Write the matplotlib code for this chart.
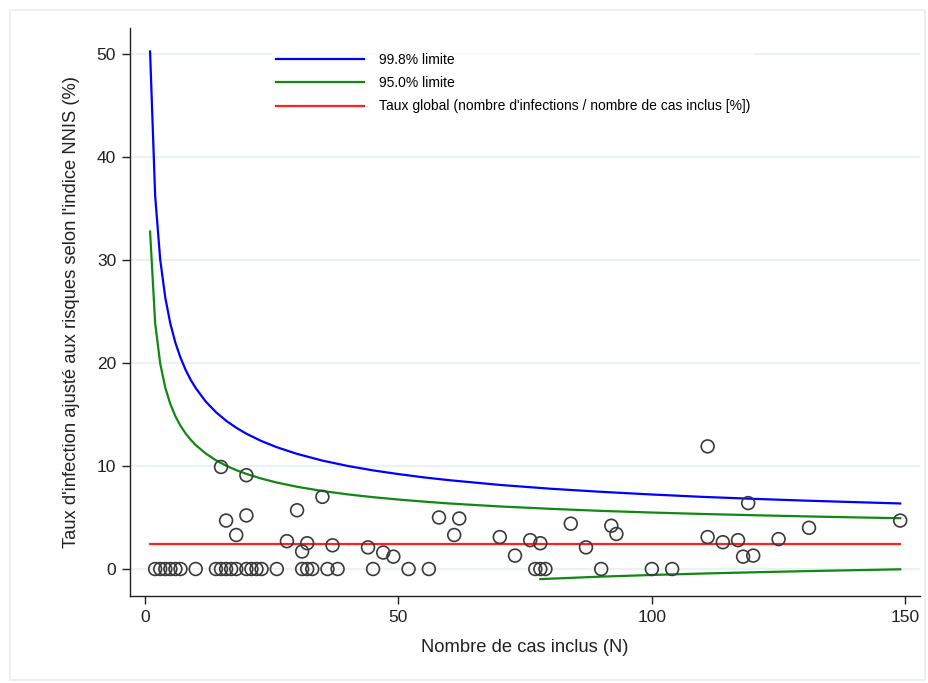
import matplotlib
matplotlib.use("Agg")
import matplotlib.pyplot as plt
from matplotlib.patches import Rectangle

plt.rcParams['font.family'] = ['Liberation Sans', 'DejaVu Sans']

# Scatter data: number of cases (N) and adjusted infection rate (%)
cases_n = [2, 3, 4, 5, 6, 7, 10, 14, 15, 16, 17, 18, 20, 21, 22, 23, 26, 31, 32, 33, 36, 38, 45, 52, 56,
           77, 78, 79, 90, 100, 104,
           15, 20, 35, 30, 16, 20, 18, 28, 32, 31, 37, 44, 47, 49, 58, 62, 61, 70, 73,
           76, 78, 84, 87, 92, 93, 111, 111, 114, 117, 119, 118, 120, 125, 131, 149]
rates = [0, 0, 0, 0, 0, 0, 0, 0, 0, 0, 0, 0, 0, 0, 0, 0, 0, 0, 0, 0, 0, 0, 0, 0, 0,
         0, 0, 0, 0, 0, 0,
         9.9, 9.1, 7.0, 5.7, 4.7, 5.2, 3.3, 2.7, 2.5, 1.7, 2.3, 2.1, 1.6, 1.2, 5.0, 4.9, 3.3, 3.1, 1.3,
         2.8, 2.5, 4.4, 2.1, 4.2, 3.4, 11.9, 3.1, 2.6, 2.8, 6.4, 1.2, 1.3, 2.9, 4.0, 4.7]

# Control limits
limit_n = [1, 2, 3, 4, 5, 6, 7, 8, 9, 10, 12, 14, 16, 18, 20, 23, 26, 30, 35, 40, 45, 50, 55,
           60, 70, 80, 90, 100, 110, 120, 130, 140, 149]
upper_998 = [50.22, 36.23, 30.03, 26.34, 23.81, 21.95, 20.51, 19.34, 18.37, 17.56, 16.24, 15.22,
             14.39, 13.71, 13.13, 12.41, 11.82, 11.17, 10.52, 10.00, 9.57, 9.21, 8.89, 8.62,
             8.16, 7.79, 7.49, 7.23, 7.00, 6.81, 6.64, 6.49, 6.36]
upper_950 = [32.75, 23.88, 19.94, 17.60, 16.00, 14.82, 13.90, 13.16, 12.55, 12.03, 11.20, 10.55,
             10.03, 9.59, 9.23, 8.77, 8.39, 7.98, 7.57, 7.24, 6.97, 6.74, 6.54, 6.36,
             6.07, 5.84, 5.64, 5.48, 5.34, 5.22, 5.11, 5.01, 4.93]
lower_n = [78, 90, 100, 110, 120, 130, 149]
lower_950 = [-0.98, -0.74, -0.58, -0.44, -0.32, -0.21, -0.03]
global_n = [1, 149]
global_rate = [2.45, 2.45]

fig = plt.figure(figsize=(9.29, 6.83), dpi=100)
fig.patches.append(Rectangle((10/929, 1-680/683), 915/929, 670/683, transform=fig.transFigure,
                             fill=False, edgecolor='#e6eef0', linewidth=1.2))
ax = fig.add_axes([130/929, 1-596/683, 790/929, 568/683])

for y in [0, 10, 20, 30, 40, 50]:
    ax.axhline(y, color='#eaf2f3', linewidth=1.5, zorder=0)

ax.plot(limit_n, upper_998, color='#0000ff', lw=1.6, label='99.8% limite', zorder=3)
ax.plot(limit_n, upper_950, color='#118811', lw=1.6, label='95.0% limite', zorder=3)
ax.plot(lower_n, lower_950, color='#118811', lw=1.6, zorder=3)
ax.plot(global_n, global_rate, color='#ff2020', lw=1.6,
        label="Taux global (nombre d'infections / nombre de cas inclus [%])", zorder=3)
ax.scatter(cases_n, rates, s=85, facecolors='none', edgecolors='#3a3a3a', linewidths=1.2, zorder=4)

ax.set_xlim(-2.96, 152.9)
ax.set_ylim(-2.62, 52.5)
ax.set_xticks([0, 50, 100, 150])
ax.set_yticks([0, 10, 20, 30, 40, 50])
for s in ['top', 'right']:
    ax.spines[s].set_visible(False)
for s in ['left', 'bottom']:
    ax.spines[s].set_color('#222222')
    ax.spines[s].set_linewidth(1.0)
ax.tick_params(direction='out', length=6, width=1, colors='#222222', labelsize=12.5, pad=4)
ax.set_xlabel('Nombre de cas inclus (N)', fontsize=13.2, color='#222222', labelpad=10)
ax.set_ylabel("Taux d'infection ajusté aux risques selon l'indice NNIS (%)", fontsize=13.2,
              color='#222222', labelpad=12)

leg = ax.legend(loc='upper left', bbox_to_anchor=(265/929, 1-42/683), bbox_transform=fig.transFigure,
                frameon=True, fontsize=10, handlelength=6.3, handletextpad=1.1, labelspacing=0.66,
                borderpad=0.3, fancybox=False)
leg.get_frame().set_facecolor('white')
leg.get_frame().set_edgecolor('none')

fig.savefig('out.png', dpi=100)
